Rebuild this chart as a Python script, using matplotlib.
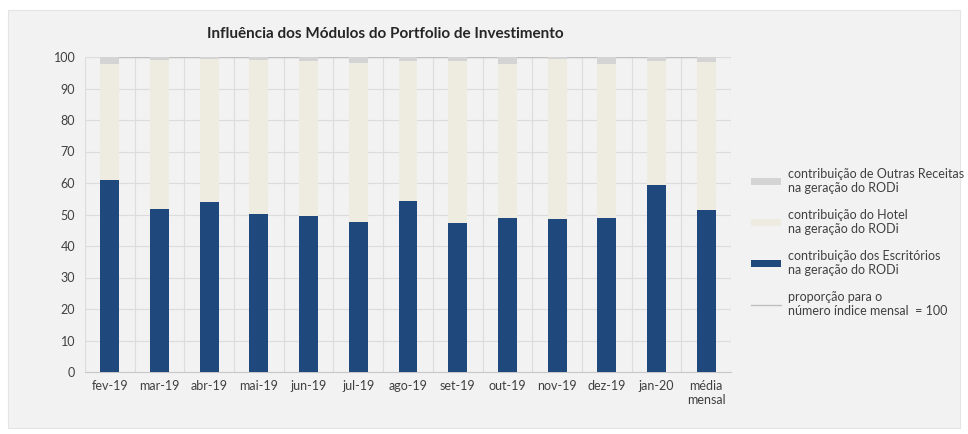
import matplotlib
matplotlib.use('Agg')
import matplotlib.pyplot as plt
from matplotlib.patches import Rectangle
import numpy as np

plt.rcParams['font.family'] = ['Lato', 'DejaVu Sans']

# data
meses = ['fev-19', 'mar-19', 'abr-19', 'mai-19', 'jun-19', 'jul-19', 'ago-19',
         'set-19', 'out-19', 'nov-19', 'dez-19', 'jan-20', 'média\nmensal']
escritorios = [60.9, 51.7, 53.9, 50.2, 49.4, 47.7, 54.3, 47.3, 49.0, 48.5, 49.0, 59.4, 51.4]
outras = [2.2, 1.0, 0.7, 1.0, 1.3, 2.0, 1.2, 1.3, 2.2, 0.6, 2.2, 1.2, 1.5]
hotel = [100 - e - o for e, o in zip(escritorios, outras)]
indice = [100] * len(meses)

c_esc = '#1f497d'
c_hotel = '#eeece1'
c_outras = '#d4d4d4'
c_linha = '#bfbfbf'
bg = '#f2f2f2'

fig = plt.figure(figsize=(9.68, 4.34), dpi=100)
fig.patch.set_facecolor('white')
fig.patches.append(Rectangle((8 / 968, 6 / 434), 952 / 968, 418 / 434,
                             transform=fig.transFigure, facecolor=bg,
                             edgecolor='#e4e4e4', lw=0.8, zorder=-1))

ax = fig.add_axes([85 / 968, 62 / 434, 646 / 968, 315 / 434])
ax.set_facecolor(bg)

x = np.arange(len(meses))
w = 0.38
ax.bar(x, escritorios, w, color=c_esc, label='contribuição dos Escritórios\nna geração do RODi', zorder=3)
ax.bar(x, hotel, w, bottom=escritorios, color=c_hotel,
       label='contribuição do Hotel\nna geração do RODi', zorder=3)
bot2 = [e + h for e, h in zip(escritorios, hotel)]
ax.bar(x, outras, w, bottom=bot2, color=c_outras,
       label='contribuição de Outras Receitas\nna geração do RODi', zorder=3)
ax.plot(x, indice, color=c_linha, lw=1, zorder=2,
        label='proporção para o\nnúmero índice mensal  = 100')

ax.set_xlim(-0.5, len(meses) - 0.5)
ax.set_ylim(0, 100)
ax.set_yticks(range(0, 101, 10))
ax.set_xticks(x)
ax.set_xticklabels(meses)
ax.set_xticks(np.arange(-0.5, len(meses), 1), minor=True)
ax.grid(axis='y', color='#dcdcdc', lw=0.8, zorder=0)
ax.grid(axis='x', which='minor', color='#dcdcdc', lw=0.8, zorder=0)
ax.tick_params(axis='both', which='both', length=0, labelsize=9, colors='#404040')
ax.tick_params(axis='x', pad=6)
ax.tick_params(axis='y', pad=7)
for s in ['top', 'right', 'left']:
    ax.spines[s].set_visible(False)
ax.spines['bottom'].set_color('#c8c8c8')

ax.set_title('Influência dos Módulos do Portfolio de Investimento',
             fontsize=11, fontweight='bold', color='#262626', pad=14, x=0.465)

# legend order as in the reference: top to bottom
h, l = ax.get_legend_handles_labels()
lab_order = ['contribuição de Outras Receitas\nna geração do RODi',
             'contribuição do Hotel\nna geração do RODi',
             'contribuição dos Escritórios\nna geração do RODi',
             'proporção para o\nnúmero índice mensal  = 100']
hd = dict(zip(l, h))
fig.legend([hd[k] for k in lab_order], lab_order, loc='upper left',
           bbox_to_anchor=(740 / 968, 1 - 157 / 434), frameon=False,
           fontsize=9, labelspacing=1.2, handlelength=2.4,
           handleheight=0.5, handletextpad=0.5, labelcolor='#404040')

fig.savefig('out.png', dpi=100, facecolor=fig.get_facecolor())
